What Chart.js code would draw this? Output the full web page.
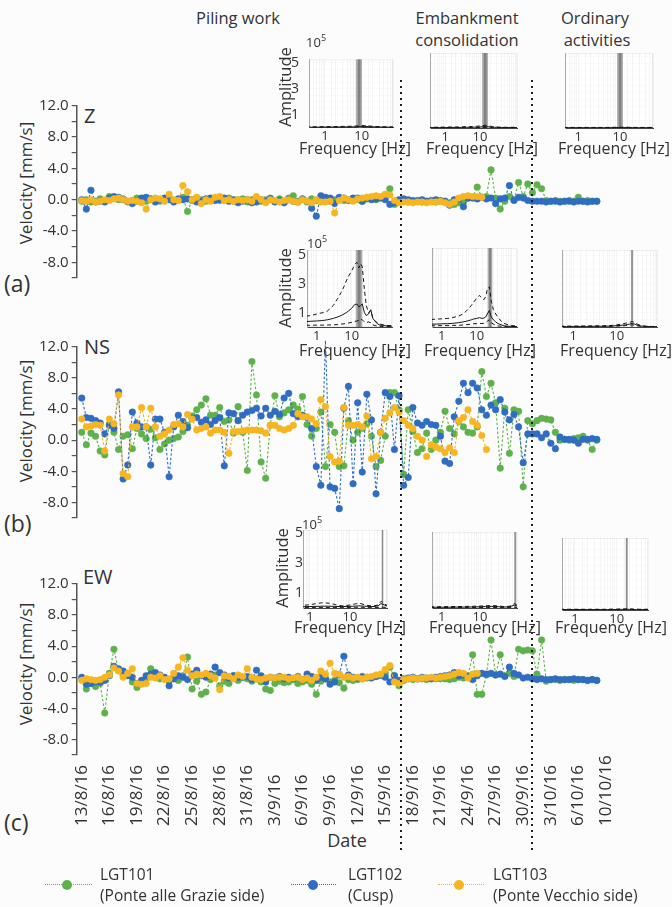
<!DOCTYPE html>
<html>
<head>
<meta charset="utf-8">
<script src="https://cdn.jsdelivr.net/npm/chart.js@4.4.1/dist/chart.umd.min.js"></script>
<style>
  html, body { margin: 0; padding: 0; background: #fcfcfd; }
  #page { position: relative; width: 672px; height: 907px; overflow: hidden; font-family: 'Open Sans', sans-serif; color: #333; }
  #page canvas { position: absolute; }
  .t { position: absolute; white-space: nowrap; transform: translate(-50%, -50%); line-height: 1; }
  .l { position: absolute; white-space: nowrap; transform: translate(0, -50%); line-height: 1; }
  .rot { position: absolute; white-space: nowrap; transform: translate(-50%, -50%) rotate(-90deg); line-height: 1; }
  .dash { position: absolute; height: 0; }
  .dot { position: absolute; width: 10px; height: 10px; border-radius: 50%; transform: translate(-50%, -50%); }
  sup { font-size: 9px; vertical-align: 6px; }
</style>
</head>
<body>
<div id="page">
  <div class="t" style="left:238px;top:18px;font-size:16.5px">Piling work</div>
  <div class="t" style="left:467px;top:18px;font-size:16.5px">Embankment</div>
  <div class="t" style="left:467px;top:40px;font-size:16.5px">consolidation</div>
  <div class="t" style="left:595px;top:18px;font-size:16.5px">Ordinary</div>
  <div class="t" style="left:597px;top:40px;font-size:16.5px">activities</div>

  <div class="l" style="left:84px;top:116px;font-size:20px">Z</div>
  <div class="l" style="left:84px;top:347px;font-size:20px">NS</div>
  <div class="l" style="left:83px;top:577px;font-size:20px">EW</div>
  <div class="l" style="left:4px;top:283px;font-size:23px">(a)</div>
  <div class="l" style="left:4px;top:523px;font-size:23px">(b)</div>
  <div class="l" style="left:4px;top:822px;font-size:23px">(c)</div>
  <div class="rot" style="left:25px;top:183px;font-size:17px">Velocity [mm/s]</div>
  <div class="rot" style="left:25px;top:421px;font-size:17px">Velocity [mm/s]</div>
  <div class="rot" style="left:25px;top:664px;font-size:17px">Velocity [mm/s]</div>
  <div class="t" style="left:347px;top:840px;font-size:18px">Date</div>
</div>
<script>
// sample times, in days from 13/8/16
const days = [
  0, 0.5, 1, 1.5, 2, 2.5, 3, 3.5, 4, 4.5,
  5, 5.5, 6, 6.5, 7, 7.5, 8, 8.5, 9, 9.5,
  10, 10.5, 11, 11.5, 12, 12.5, 13, 13.5, 14, 14.5,
  15, 15.5, 16, 16.5, 17, 17.5, 18, 18.5, 19, 19.5,
  20, 20.5, 21, 21.5, 22, 22.5, 23, 23.5, 24, 24.5,
  25, 25.5, 26, 26.5, 27, 27.5, 28, 28.5, 29, 29.5,
  30, 30.5, 31, 31.5, 32, 32.5, 33, 33.5, 34, 34.5,
  35, 35.5, 36, 36.5, 37, 37.5, 38, 38.5, 39, 39.5,
  40, 40.5, 41, 41.5, 42, 42.5, 43, 43.5, 44, 44.5,
  45, 45.5, 46, 46.5, 47, 47.5, 48, 48.5, 49, 49.5,
  50, 50.5, 51, 51.5, 52, 52.5, 53, 53.5, 54, 54.5,
  55, 55.5, 56
];
const tickDays = [0, 3, 6, 9, 12, 15, 18, 21, 24, 27, 30, 33, 36, 39, 42, 45, 48, 51, 54, 57];
const tickLabels = ["13/8/16", "16/8/16", "19/8/16", "22/8/16", "25/8/16", "28/8/16", "31/8/16",
  "3/9/16", "6/9/16", "9/9/16", "12/9/16", "15/9/16", "18/9/16", "21/9/16", "24/9/16",
  "27/9/16", "30/9/16", "3/10/16", "6/10/16", "10/10/16"];
const phaseBounds = [34.7, 49.0];

// Z component [mm/s]
const zGreen = [
  -0.2, 0.0, -0.3, -0.2, 0.1, -0.2, 0.4, 0.3, 0.0, 0.1,
  -0.3, -0.1, 0.2, -0.1, -0.2, 0.0, 0.1, -0.2, 0.0, 0.2,
  -0.1, 0.0, 0.3, -1.5, -0.1, 0.2, 0.0, -0.2, 0.1, 0.0,
  -0.1, 0.0, 0.2, -0.2, 0.0, 0.1, -0.3, 0.0, 0.1, -0.2,
  0.0, 0.2, -0.2, 0.1, -0.3, 0.2, 0.5, -0.2, 0.0, -0.3,
  0.1, -0.1, 0.0, 0.2, -0.2, 0.0, 0.1, -0.1, 0.0, 0.1,
  0.0, -0.2, 0.1, 0.2, 0.0, 0.3, 0.6, 1.4, -0.6, -0.3,
  -0.2, -0.3, -0.2, -0.2, -0.3, -0.2, -0.2, -0.3, -0.2, -0.2,
  -0.4, -0.6, -0.4, -0.3, 0.2, 0.3, 1.6, 0.3, 0.4, 3.8,
  0.2, -1.2, -0.2, 0.4, 0.0, 2.2, 0.4, 2.0, 0.9, 1.9,
  1.4, -0.1, -0.2, -0.1, -0.2, -0.2, -0.1, -0.2, 0.3, -0.2,
  -0.1, -0.2, -0.2
];
const zBlue = [
  0.0, -1.2, 1.2, -0.3, -0.2, -0.3, 0.2, 0.4, 0.3, 0.0,
  -0.2, -0.5, -0.2, 0.2, 0.3, 0.1, -0.3, 0.0, 0.2, 0.0,
  -0.3, 0.1, 0.0, 0.1, 0.0, -0.3, -0.2, 0.1, 0.2, -0.1,
  0.0, 0.2, -0.2, 0.0, -0.4, -0.2, 0.0, -0.4, -0.3, 0.0,
  -0.2, 0.1, -0.3, -0.1, -0.4, 0.0, -0.2, -0.3, 0.1, -0.2,
  -1.1, -2.1, 0.5, 0.3, 0.2, -0.5, 0.3, 0.2, -0.1, 0.2,
  0.2, -0.2, 0.2, 0.0, 0.1, 0.2, 0.0, -0.6, -0.4, 0.0,
  0.1, 0.0, -0.1, -0.1, 0.0, -0.2, -0.1, 0.0, -0.1, -0.2,
  -0.7, 0.0, 0.1, -0.9, 0.2, 0.2, 0.1, 0.3, 0.1, 0.2,
  -0.5, 0.1, 0.2, 1.8, -0.1, 0.3, 0.2, -0.1, -0.2, -0.2,
  -0.2, -0.3, -0.2, -0.2, -0.3, -0.2, -0.2, -0.3, -0.2, -0.2,
  -0.3, -0.2, -0.2
];
const zYellow = [
  -0.1, -0.2, 0.0, -0.3, -0.2, 0.0, -0.1, 0.1, 0.2, 0.0,
  -0.2, -0.1, -0.2, -0.4, -1.2, 0.0, 0.2, 0.1, -0.2, 0.7,
  0.0, -0.1, 1.8, 1.0, 0.0, 0.3, -0.5, 0.0, -0.2, 0.3,
  0.4, -0.1, 0.0, -0.2, 0.0, -0.1, 0.0, -0.2, 0.4, 0.0,
  -0.4, 0.0, -0.1, -0.3, -0.1, 0.0, -0.2, -0.3, 0.0, -0.2,
  -0.4, 0.0, -0.3, -0.3, -0.2, -1.7, -0.1, 0.2, 0.0, -0.2,
  0.1, 0.2, 0.3, 0.4, 0.5, 0.4, 0.7, 0.6, -0.1, -0.4,
  -0.3, -0.3, -0.4, -0.3, -0.3, -0.4, -0.3, -0.3, -0.2, -0.4,
  -0.6, -0.3, 0.2, 0.4, 0.5, 0.4, 0.4, 0.3
];

// NS component [mm/s]
const nsGreen = [
  1.0, -0.6, 0.9, 0.5, -1.4, -1.9, 2.0, 1.0, -1.2, 0.5,
  0.7, -1.1, 1.5, 0.8, 0.2, 1.4, 0.3, -1.2, -0.5, 0.0,
  0.2, 0.4, 1.1, 1.9, 3.1, 3.9, 4.5, 5.3, 3.2, 3.2,
  4.2, 2.4, 2.6, 0.9, 4.3, 1.0, -3.9, 10.1, 5.8, -2.8,
  -4.9, 1.9, 5.7, 3.0, 3.5, 3.9, 4.5, 4.0, 5.6, 2.0,
  0.5, 1.5, 3.6, -3.4, 2.0, 1.0, -3.4, -3.3, 2.5, 0.0,
  1.0, 1.5, 2.1, 0.5, -3.4, -2.6, 0.5, 6.1, 6.1, 3.9,
  -4.4, 3.9, 1.1, -1.6, -1.1, 0.9, -1.2, 0.0, 1.0, 3.7,
  1.5, 0.8, 2.4, 1.7, 1.0, 0.9, 1.7, 8.8, 5.6, 7.3,
  4.8, -3.6, 4.1, -1.7, 3.9, 3.7, -6.0, 2.5, 2.1, 2.5,
  2.8, 2.7, 2.6, 1.0, 0.0, 0.1, 0.0, 0.2, 0.3, 0.5,
  0.0, -1.2, 0.0
];
const nsBlue = [
  5.4, 2.9, 2.8, 2.5, 2.2, 0.8, 1.9, 1.5, 6.2, -5.0,
  -3.2, 3.6, 2.2, 1.7, 1.7, -3.2, 2.7, 2.7, 1.0, -4.7,
  1.7, 3.2, 2.4, 1.6, 2.8, 2.9, 2.3, 2.6, 2.0, 2.5,
  2.9, -3.3, 3.5, 3.4, 2.5, 3.2, 3.6, 3.8, 4.1, 3.1,
  4.1, 3.2, 3.7, 3.3, 5.4, 6.0, 3.4, 3.0, 3.2, 2.9,
  1.5, -3.4, -5.8, 12.8, -6.0, -6.2, -8.8, 4.1, 6.9, -5.6,
  4.8, -4.1, 5.9, 2.6, -6.9, 1.0, 6.1, 5.6, -1.2, 5.7,
  -5.8, -4.8, 4.2, 2.2, 1.9, 2.4, 2.0, 1.9, 0.5, -2.7,
  -3.0, 3.0, 5.0, 7.3, 6.1, 7.3, 6.7, 3.9, 3.2, 4.5,
  3.9, 5.2, 3.6, 2.6, 3.3, 1.7, -2.9, 0.8, 0.8, 0.8,
  0.3, 0.8, -0.4, -1.1, 0.4, 0.1, 0.1, 0.0, -0.4, 0.1,
  0.1, 0.2, 0.1
];
const nsYellow = [
  2.7, 1.7, 1.8, 2.0, 1.9, -1.4, 2.7, 2.1, 5.8, -4.3,
  -4.7, 1.7, 1.7, 4.2, 1.7, 4.1, 1.7, 0.5, 0.8, 1.3,
  2.0, 2.1, 1.7, 3.3, 2.7, 1.3, 1.5, 1.7, 0.9, 1.3,
  1.3, 1.0, -1.7, 1.1, 1.1, 1.2, 1.3, 1.3, 1.3, 1.2,
  0.9, 1.9, 1.9, 1.5, 1.3, 1.5, 1.9, 3.4, 3.0, 3.0,
  2.7, 2.1, 5.2, 4.3, -2.1, -2.8, -2.7, 4.2, 1.9, 1.9,
  2.0, 1.7, 3.1, -2.4, -2.1, 1.0, 2.8, 3.5, 4.2, 3.6,
  2.5, 1.9, 1.5, 0.5, 0.0, -2.1, -0.6, -0.9, -1.1, -1.6,
  -1.0, -1.6, 2.5, 2.9, 3.9, 2.4, 1.9, 0.6, -1.2
];

// EW component [mm/s]
const ewGreen = [
  -0.2, -1.5, -0.8, -1.2, -0.8, -4.6, 0.5, 3.6, 0.9, 0.3,
  0.5, -0.6, -1.3, -0.8, -0.2, 1.1, 0.3, -0.2, -0.1, -0.5,
  0.0, -0.4, 0.2, 2.6, -1.5, -0.5, -2.2, -1.9, -0.3, 0.3,
  -1.1, -0.5, -0.8, 0.2, -0.4, 0.0, -0.2, -0.5, -0.2, -0.6,
  -1.5, -1.7, -0.8, -0.5, -0.7, -0.6, -0.3, -0.8, -0.6, -0.4,
  -0.9, -2.2, -0.5, -0.2, -0.6, -0.4, -0.7, -1.4, -0.3, -0.4,
  -0.3, -0.2, -0.1, 0.0, 0.1, 0.2, 0.5, 1.3, 0.2, -1.1,
  -0.4, -0.2, -0.3, -0.2, -0.2, -0.3, -0.1, -0.2, -0.2, -0.2,
  -0.3, -0.2, 0.0, -0.1, 0.2, 2.9, -2.2, -2.2, 0.3, 4.8,
  0.3, 2.9, 0.2, 0.5, 0.1, 3.6, 3.4, 3.5, 3.4, 0.4,
  4.8, -0.5, -0.3, -0.3, -0.4, -0.3, -0.3, -0.4, -0.3, -0.3,
  -0.4, -0.3, -0.4
];
const ewBlue = [
  0.0, -0.9, -0.8, -0.6, -0.6, -0.4, 0.2, 1.4, 1.1, 0.8,
  0.2, 0.0, -0.8, -0.4, 0.2, 0.4, 0.6, 0.3, 0.0, -1.1,
  -0.2, 0.2, 0.0, -0.3, 0.4, 0.9, 0.2, 0.0, 0.4, 1.3,
  0.6, 0.3, -0.1, 0.2, 0.0, 0.0, 0.1, -0.3, 0.9, 0.2,
  -0.6, 0.0, -0.1, 0.1, -0.2, 0.0, -0.2, 0.1, -0.3, 0.4,
  0.1, -0.4, 0.0, -0.2, -0.9, -0.6, 0.3, 2.7, 0.3, 0.0,
  -0.1, 0.1, 0.0, -0.1, 0.1, 0.3, 0.0, -0.6, 0.2, -0.4,
  -0.2, -0.1, 0.0, -0.2, 0.0, -0.1, -0.2, 0.0, 0.1, 0.2,
  0.3, 0.6, 0.2, 0.3, 0.1, -0.3, 0.2, 0.5, 0.4, 0.5,
  0.3, 0.4, 0.1, 1.3, 0.5, 0.3, -0.1, 0.0, -0.2, -0.3,
  -0.2, -0.3, -0.3, -0.2, -0.3, -0.3, -0.3, -0.2, -0.3, -0.3,
  -0.4, -0.3, -0.4
];
const ewYellow = [
  -0.4, -0.2, -0.3, -0.4, -0.3, 0.0, 0.3, 1.2, 0.8, 0.0,
  0.5, 1.1, -0.8, -0.9, -0.8, 0.0, -0.1, 0.2, -0.3, -0.2,
  0.5, 1.3, 2.5, 0.9, 0.2, 0.4, 0.3, 0.5, 0.2, -0.1,
  -1.6, 0.2, 0.1, -0.2, 0.3, 0.1, 1.1, 0.0, -0.2, -0.3,
  -0.1, 0.0, -0.1, 0.0, 0.0, -0.2, -0.1, 0.0, -0.3, -0.1,
  -0.4, 0.0, 0.8, 0.4, 1.8, 0.5, 0.4, 0.0, 0.1, -0.1,
  0.0, -0.2, 0.0, 0.1, 0.3, 0.4, 1.0, 1.5, -0.6, -0.8,
  -0.3, -0.2, -0.1, -0.2, -0.1, -0.1, 0.0, -0.1, 0.0, 0.1,
  0.2, 0.4, 0.6, 0.5, -0.1, 0.4, 0.5
];

// spectra: frequency [Hz] and amplitude [x10^5] -> [upper dashed, solid, lower dashed]
const freqs = [0.3, 0.5, 0.7, 1, 1.5, 2, 3, 4, 5, 6, 7, 8, 10, 12, 14, 16, 18, 20, 23, 26, 30, 35, 40, 50, 60, 80, 100, 150];
const specZPiling = [
  [0.06, 0.06, 0.07, 0.07, 0.08, 0.08, 0.09, 0.1, 0.1, 0.11, 0.12, 0.13, 0.15, 0.16, 0.15, 0.13, 0.11, 0.1, 0.09, 0.08, 0.07, 0.07, 0.06, 0.06, 0.05, 0.05, 0.05, 0.05],
  [0.03, 0.03, 0.03, 0.04, 0.04, 0.04, 0.05, 0.05, 0.05, 0.06, 0.06, 0.07, 0.08, 0.09, 0.08, 0.07, 0.06, 0.06, 0.05, 0.05, 0.04, 0.04, 0.04, 0.03, 0.03, 0.03, 0.03, 0.03],
  [0.02, 0.02, 0.02, 0.02, 0.02, 0.02, 0.02, 0.03, 0.03, 0.03, 0.03, 0.03, 0.04, 0.04, 0.04, 0.04, 0.03, 0.03, 0.03, 0.03, 0.02, 0.02, 0.02, 0.02, 0.02, 0.02, 0.02, 0.02]
];
const specZEmbank = [
  [0.05, 0.05, 0.06, 0.06, 0.07, 0.07, 0.08, 0.09, 0.1, 0.1, 0.11, 0.12, 0.14, 0.17, 0.19, 0.18, 0.15, 0.12, 0.1, 0.08, 0.07, 0.06, 0.06, 0.05, 0.05, 0.05, 0.05, 0.05],
  [0.03, 0.03, 0.03, 0.03, 0.04, 0.04, 0.04, 0.05, 0.05, 0.05, 0.06, 0.06, 0.07, 0.09, 0.1, 0.09, 0.08, 0.07, 0.06, 0.05, 0.04, 0.04, 0.04, 0.03, 0.03, 0.03, 0.03, 0.03],
  [0.02, 0.02, 0.02, 0.02, 0.02, 0.02, 0.02, 0.03, 0.03, 0.03, 0.03, 0.03, 0.04, 0.04, 0.04, 0.04, 0.03, 0.03, 0.03, 0.03, 0.02, 0.02, 0.02, 0.02, 0.02, 0.02, 0.02, 0.02]
];
const specZOrdinary = [
  [0.04, 0.04, 0.04, 0.04, 0.04, 0.04, 0.04, 0.04, 0.04, 0.05, 0.05, 0.05, 0.05, 0.06, 0.06, 0.05, 0.05, 0.05, 0.04, 0.04, 0.04, 0.04, 0.04, 0.04, 0.04, 0.04, 0.04, 0.04],
  [0.02, 0.02, 0.02, 0.02, 0.02, 0.02, 0.02, 0.02, 0.02, 0.03, 0.03, 0.03, 0.03, 0.03, 0.03, 0.03, 0.03, 0.03, 0.02, 0.02, 0.02, 0.02, 0.02, 0.02, 0.02, 0.02, 0.02, 0.02],
  [0.01, 0.01, 0.01, 0.01, 0.01, 0.01, 0.01, 0.01, 0.01, 0.01, 0.01, 0.01, 0.01, 0.01, 0.01, 0.01, 0.01, 0.01, 0.01, 0.01, 0.01, 0.01, 0.01, 0.01, 0.01, 0.01, 0.01, 0.01]
];
const specNSPiling = [
  [0.7, 0.75, 0.8, 0.9, 1.0, 1.1, 1.5, 2.0, 2.4, 2.8, 3.2, 3.5, 3.9, 4.3, 4.5, 4.1, 4.4, 4.2, 2.6, 1.5, 1.0, 1.15, 0.6, 0.35, 0.22, 0.15, 0.1, 0.08],
  [0.35, 0.38, 0.4, 0.42, 0.45, 0.5, 0.6, 0.7, 0.8, 0.9, 1.0, 1.1, 1.3, 1.55, 1.6, 1.4, 1.5, 1.6, 1.0, 0.8, 0.9, 1.2, 0.6, 0.3, 0.15, 0.1, 0.08, 0.05],
  [0.12, 0.12, 0.12, 0.13, 0.13, 0.14, 0.15, 0.17, 0.2, 0.22, 0.25, 0.28, 0.32, 0.38, 0.42, 0.45, 0.55, 0.5, 0.35, 0.3, 0.35, 0.3, 0.15, 0.08, 0.05, 0.04, 0.03, 0.03]
];
const specNSEmbank = [
  [0.5, 0.52, 0.55, 0.57, 0.6, 0.65, 0.75, 0.9, 1.1, 1.3, 1.5, 1.7, 2.0, 2.2, 2.0, 1.9, 2.1, 2.6, 2.8, 1.8, 1.2, 0.9, 0.7, 0.4, 0.25, 0.15, 0.1, 0.08],
  [0.18, 0.2, 0.2, 0.22, 0.23, 0.25, 0.3, 0.35, 0.4, 0.45, 0.5, 0.55, 0.6, 0.65, 0.6, 0.62, 0.7, 0.9, 1.15, 0.7, 0.5, 0.35, 0.25, 0.15, 0.08, 0.05, 0.04, 0.03],
  [0.08, 0.08, 0.09, 0.1, 0.1, 0.11, 0.12, 0.14, 0.16, 0.18, 0.2, 0.22, 0.24, 0.25, 0.24, 0.26, 0.3, 0.4, 0.5, 0.3, 0.2, 0.12, 0.08, 0.05, 0.04, 0.03, 0.03, 0.03]
];
const specNSOrdinary = [
  [0.06, 0.06, 0.06, 0.06, 0.07, 0.07, 0.08, 0.08, 0.09, 0.1, 0.1, 0.12, 0.15, 0.18, 0.22, 0.26, 0.3, 0.33, 0.38, 0.3, 0.2, 0.12, 0.08, 0.05, 0.04, 0.03, 0.03, 0.03],
  [0.03, 0.03, 0.03, 0.04, 0.04, 0.04, 0.05, 0.05, 0.05, 0.06, 0.06, 0.07, 0.09, 0.11, 0.13, 0.15, 0.18, 0.2, 0.25, 0.2, 0.12, 0.08, 0.05, 0.04, 0.03, 0.03, 0.02, 0.02],
  [0.02, 0.02, 0.02, 0.02, 0.02, 0.03, 0.03, 0.03, 0.03, 0.04, 0.04, 0.05, 0.06, 0.07, 0.08, 0.1, 0.11, 0.13, 0.15, 0.12, 0.08, 0.05, 0.04, 0.03, 0.02, 0.02, 0.02, 0.02]
];
const specEWPiling = [
  [0.15, 0.15, 0.18, 0.22, 0.3, 0.35, 0.32, 0.25, 0.18, 0.15, 0.15, 0.16, 0.2, 0.25, 0.28, 0.3, 0.3, 0.27, 0.22, 0.18, 0.16, 0.15, 0.15, 0.2, 0.45, 0.2, 0.15, 0.15],
  [0.08, 0.08, 0.09, 0.1, 0.11, 0.12, 0.12, 0.11, 0.1, 0.1, 0.1, 0.1, 0.11, 0.12, 0.13, 0.14, 0.14, 0.13, 0.12, 0.11, 0.1, 0.1, 0.1, 0.14, 0.3, 0.15, 0.1, 0.1],
  [0.04, 0.04, 0.04, 0.04, 0.04, 0.04, 0.04, 0.04, 0.04, 0.04, 0.04, 0.04, 0.04, 0.05, 0.05, 0.05, 0.05, 0.05, 0.04, 0.04, 0.04, 0.04, 0.04, 0.04, 0.06, 0.04, 0.04, 0.04]
];
const specEWEmbank = [
  [0.08, 0.08, 0.08, 0.09, 0.09, 0.1, 0.1, 0.1, 0.11, 0.11, 0.12, 0.12, 0.13, 0.14, 0.15, 0.16, 0.16, 0.17, 0.16, 0.15, 0.13, 0.12, 0.1, 0.1, 0.12, 0.3, 0.12, 0.1],
  [0.05, 0.05, 0.05, 0.05, 0.05, 0.06, 0.06, 0.06, 0.07, 0.07, 0.07, 0.08, 0.08, 0.09, 0.1, 0.1, 0.1, 0.11, 0.1, 0.1, 0.09, 0.08, 0.07, 0.07, 0.09, 0.2, 0.08, 0.06],
  [0.03, 0.03, 0.03, 0.03, 0.03, 0.03, 0.03, 0.03, 0.03, 0.03, 0.03, 0.03, 0.03, 0.03, 0.03, 0.03, 0.03, 0.03, 0.03, 0.03, 0.03, 0.03, 0.03, 0.03, 0.03, 0.05, 0.03, 0.03]
];
const specEWOrdinary = [
  [0.05, 0.05, 0.05, 0.05, 0.05, 0.05, 0.05, 0.05, 0.05, 0.05, 0.06, 0.06, 0.06, 0.07, 0.07, 0.08, 0.09, 0.08, 0.07, 0.06, 0.06, 0.05, 0.05, 0.05, 0.05, 0.05, 0.05, 0.05],
  [0.03, 0.03, 0.03, 0.03, 0.03, 0.03, 0.03, 0.03, 0.03, 0.03, 0.03, 0.03, 0.03, 0.04, 0.04, 0.04, 0.05, 0.04, 0.04, 0.03, 0.03, 0.03, 0.03, 0.03, 0.03, 0.03, 0.03, 0.03],
  [0.02, 0.02, 0.02, 0.02, 0.02, 0.02, 0.02, 0.02, 0.02, 0.02, 0.02, 0.02, 0.02, 0.02, 0.02, 0.02, 0.02, 0.02, 0.02, 0.02, 0.02, 0.02, 0.02, 0.02, 0.02, 0.02, 0.02, 0.02]
];

const GREEN = '#5fb24b', BLUE = '#2f6dc2', YELLOW = '#f7b521';
const page = document.getElementById('page');
Chart.defaults.font.family = "'Open Sans', sans-serif";
Chart.defaults.color = '#333';

function addText(html, x, y, size, cls) {
  const d = document.createElement('div');
  d.className = cls;
  d.style.left = x + 'px';
  d.style.top = y + 'px';
  d.style.fontSize = size + 'px';
  d.innerHTML = html;
  page.appendChild(d);
}

// dotted phase separators, continuous across the three panels
const phasePlugin = {
  id: 'phase',
  afterDatasetsDraw(chart, args, opts) {
    const ctx = chart.ctx, xs = chart.scales.x;
    ctx.save();
    ctx.strokeStyle = '#1e1e1e';
    ctx.lineWidth = 2;
    ctx.setLineDash([2, 4]);
    ctx.lineDashOffset = opts.offset;
    phaseBounds.forEach(d => {
      const x = Math.round(xs.getPixelForValue(d));
      ctx.beginPath();
      ctx.moveTo(x, opts.y0);
      ctx.lineTo(x, opts.y1);
      ctx.stroke();
    });
    ctx.restore();
  }
};

// date labels, rotated and aligned on their start like the original
const datePlugin = {
  id: 'dates',
  afterDraw(chart, args, opts) {
    const ctx = chart.ctx, xs = chart.scales.x;
    ctx.save();
    ctx.font = "17px 'Open Sans', sans-serif";
    ctx.fillStyle = '#333';
    ctx.textAlign = 'left';
    ctx.textBaseline = 'middle';
    tickDays.forEach((d, i) => {
      ctx.save();
      ctx.translate(xs.getPixelForValue(d), opts.y);
      ctx.rotate(-Math.PI / 2);
      ctx.fillText(tickLabels[i], 0, 0);
      ctx.restore();
    });
    ctx.restore();
  }
};

function series(label, vals, color, order) {
  return {
    label: label,
    data: vals.map((v, i) => ({ x: days[i], y: v })),
    borderColor: color,
    backgroundColor: color,
    pointBackgroundColor: color,
    pointBorderColor: color,
    borderWidth: 1.1,
    borderDash: [2.5, 2],
    pointRadius: 3.3,
    pointBorderWidth: 0.5,
    tension: 0,
    clip: false,
    order: order
  };
}

function mainPanel(top, height, padTop, padBottom, green, blue, yellow, lineTop, lineBottom, withDates) {
  const cv = document.createElement('canvas');
  cv.width = 672;
  cv.height = height;
  cv.style.left = '0px';
  cv.style.top = top + 'px';
  page.appendChild(cv);
  const y0 = Math.max(lineTop, top);
  new Chart(cv, {
    type: 'line',
    data: {
      datasets: [
        series('LGT101', green, GREEN, 2),
        series('LGT102', blue, BLUE, 1),
        series('LGT103', yellow, YELLOW, 0)
      ]
    },
    options: {
      responsive: false,
      animation: false,
      events: [],
      layout: { padding: { top: padTop, bottom: padBottom, left: 0, right: 32 } },
      plugins: {
        legend: { display: false },
        tooltip: { enabled: false },
        phase: { y0: y0 - top, y1: lineBottom - top, offset: (y0 - 80) % 6 },
        dates: { y: 826 - top }
      },
      scales: {
        x: { type: 'linear', min: -0.55, max: 60.7, display: false },
        y: {
          min: -10, max: 12,
          ticks: {
            stepSize: 2, autoSkip: false, padding: 3,
            font: { size: 15 }, color: '#333',
            callback: v => (v % 4 === 0 ? v.toFixed(1) : '')
          },
          grid: { drawOnChartArea: false, tickLength: 5, color: '#555', lineWidth: 1.2 },
          border: { color: '#555', width: 1.5 },
          afterFit: s => { s.width = 76.7; }
        }
      }
    },
    plugins: withDates ? [phasePlugin, datePlugin] : [phasePlugin]
  });
}

mainPanel(60, 240, 45.7, 22, zGreen, zBlue, zYellow, 80, 300, false);
mainPanel(300, 240, 46.7, 22, nsGreen, nsBlue, nsYellow, 80, 540, false);
mainPanel(540, 367, 44, 152, ewGreen, ewBlue, ewYellow, 80, 851, true);

// grey band marking the dominant frequency
const bandPlugin = {
  id: 'band',
  beforeDraw(chart) {
    const a = chart.chartArea, ctx = chart.ctx;
    ctx.save();
    ctx.fillStyle = '#ffffff';
    ctx.fillRect(a.left, a.top, a.right - a.left, a.bottom - a.top);
    ctx.strokeStyle = 'rgba(0,0,0,0.06)';
    ctx.strokeRect(a.left + 0.5, a.top + 0.5, a.right - a.left - 1, a.bottom - a.top - 1);
    ctx.restore();
  },
  beforeDatasetsDraw(chart, args, opts) {
    const a = chart.chartArea, ctx = chart.ctx, xs = chart.scales.x;
    const x1 = xs.getPixelForValue(opts.lo), x2 = xs.getPixelForValue(opts.hi);
    ctx.save();
    ctx.fillStyle = 'rgba(150,150,150,0.75)';
    ctx.fillRect(x1, a.top, x2 - x1, a.bottom - a.top);
    ctx.fillStyle = 'rgba(110,110,110,0.7)';
    const w = x2 - x1;
    ctx.fillRect(x1 + w * 0.3, a.top, w * 0.45, a.bottom - a.top);
    ctx.restore();
  }
};

function curve(vals, dash) {
  return {
    data: freqs.map((f, i) => ({ x: f, y: vals[i] })),
    borderColor: '#151515',
    borderWidth: 1,
    borderDash: dash,
    pointRadius: 0,
    tension: 0
  };
}

function inset(c, spec) {
  const yAxisW = 30, xAxisH = 18, padTop = 12, padRight = 2;
  const cv = document.createElement('canvas');
  cv.width = c.R - c.L + yAxisW + padRight;
  cv.height = c.B - c.T + xAxisH + padTop;
  cv.style.left = (c.L - yAxisW) + 'px';
  cv.style.top = (c.T - padTop) + 'px';
  page.appendChild(cv);
  new Chart(cv, {
    type: 'line',
    data: { datasets: [curve(spec[0], [4, 3]), curve(spec[1], []), curve(spec[2], [4, 3])] },
    options: {
      responsive: false,
      animation: false,
      events: [],
      layout: { padding: { top: padTop, right: padRight, left: 0, bottom: 0 } },
      plugins: { legend: { display: false }, tooltip: { enabled: false }, band: { lo: c.band[0], hi: c.band[1] } },
      scales: {
        x: {
          type: 'logarithmic', min: c.fMin, max: c.fMax,
          ticks: {
            autoSkip: false, maxRotation: 0, minRotation: 0, padding: 1,
            font: { size: 13 }, color: '#333',
            callback: v => (Math.abs(v - 1) < 1e-9 ? '1' : Math.abs(v - 10) < 1e-9 ? '10' : '')
          },
          grid: { color: 'rgba(0,0,0,0.04)', tickLength: 0 },
          border: { color: '#444', width: 1 },
          afterFit: s => { s.height = xAxisH; }
        },
        y: {
          min: 0, max: c.yMax,
          ticks: {
            display: c.col === 0, stepSize: 0.5, autoSkip: false, includeBounds: false, padding: c.pad,
            font: { size: 14 }, color: '#333',
            callback: v => ([1, 3, 5].includes(v) ? String(v) : '')
          },
          grid: { color: 'rgba(0,0,0,0.045)', tickLength: 0 },
          border: { color: '#aaa', dash: [1, 2] },
          afterFit: s => { s.width = yAxisW; }
        }
      }
    },
    plugins: [bandPlugin]
  });
}

inset({ col: 0, L: 309, R: 393, T: 53, B: 128, fMin: 0.37, fMax: 71, yMax: 5.26, band: [7.0, 10.2], pad: 10 }, specZPiling);
inset({ col: 1, L: 430, R: 517, T: 53, B: 128, fMin: 0.37, fMax: 114, yMax: 5.26, band: [11.4, 16.9], pad: 0 }, specZEmbank);
inset({ col: 2, L: 565, R: 653, T: 53, B: 128, fMin: 0.48, fMax: 62, yMax: 5.26, band: [8.5, 11.8], pad: 0 }, specZOrdinary);
inset({ col: 0, L: 307, R: 392, T: 250, B: 327, fMin: 0.53, fMax: 141, yMax: 5.35, band: [13, 20], pad: 1 }, specNSPiling);
inset({ col: 1, L: 432, R: 517, T: 248, B: 327, fMin: 0.53, fMax: 141, yMax: 5.5, band: [20.6, 27.9], pad: 0 }, specNSEmbank);
inset({ col: 2, L: 562, R: 657, T: 250, B: 327, fMin: 0.55, fMax: 85, yMax: 5.35, band: [21.3, 24], pad: 0 }, specNSOrdinary);
inset({ col: 0, L: 303, R: 387, T: 530, B: 608, fMin: 0.67, fMax: 84, yMax: 5.2, band: [62, 68], pad: 0 }, specEWPiling);
inset({ col: 1, L: 432, R: 517, T: 532, B: 608, fMin: 0.56, fMax: 92, yMax: 5.07, band: [78, 87], pad: 0 }, specEWEmbank);
inset({ col: 2, L: 562, R: 648, T: 538, B: 610, fMin: 0.49, fMax: 56, yMax: 4.8, band: [16.4, 18.4], pad: 0 }, specEWOrdinary);

// inset texts
addText('10<sup>5</sup>', 306, 41, 13, 'l');
addText('Amplitude', 285, 87, 16.5, 'rot');
addText('Frequency [Hz]', 355, 148, 16, 't');
addText('Frequency [Hz]', 482, 148, 16, 't');
addText('Frequency [Hz]', 614, 148, 16, 't');
addText('10<sup>5</sup>', 307, 242, 13, 'l');
addText('Amplitude', 285, 288, 16.5, 'rot');
addText('Frequency [Hz]', 355, 350, 16, 't');
addText('Frequency [Hz]', 480, 350, 16, 't');
addText('Frequency [Hz]', 616, 350, 16, 't');
addText('10<sup>5</sup>', 302, 523, 13, 'l');
addText('Amplitude', 282, 568, 16.5, 'rot');
addText('Frequency [Hz]', 350, 627, 16, 't');
addText('Frequency [Hz]', 485, 627, 16, 't');
addText('Frequency [Hz]', 611, 627, 16, 't');

// legend
const legendItems = [
  { color: GREEN, x0: 45, x1: 92, dot: 67, text: 100, name: 'LGT101', side: '(Ponte alle Grazie side)' },
  { color: BLUE, x0: 291, x1: 336, dot: 313, text: 348, name: 'LGT102', side: '(Cusp)' },
  { color: YELLOW, x0: 438, x1: 484, dot: 459, text: 493, name: 'LGT103', side: '(Ponte Vecchio side)' }
];
legendItems.forEach(it => {
  const ln = document.createElement('div');
  ln.className = 'dash';
  ln.style.left = it.x0 + 'px';
  ln.style.top = '884px';
  ln.style.width = (it.x1 - it.x0) + 'px';
  ln.style.borderTop = '1.5px dotted ' + it.color;
  page.appendChild(ln);
  const dt = document.createElement('div');
  dt.className = 'dot';
  dt.style.left = it.dot + 'px';
  dt.style.top = '885px';
  dt.style.background = it.color;
  page.appendChild(dt);
  addText(it.name, it.text, 875, 15.5, 'l');
  addText(it.side, it.text, 896, 15.5, 'l');
});
</script>
</body>
</html>
